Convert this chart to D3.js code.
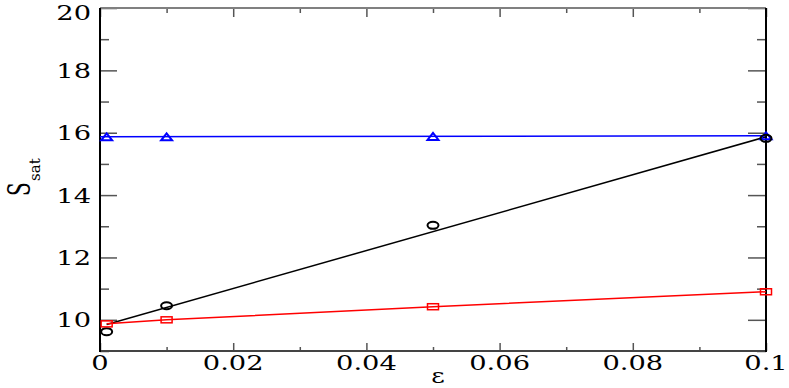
<!DOCTYPE html>
<html>
<head>
<meta charset="utf-8">
<script src="https://cdn.jsdelivr.net/npm/d3@7"></script>
<style>
  html, body { margin: 0; padding: 0; background: #fff; }
  .domain { display: none; }
  svg text { font-family: "DejaVu Serif"; fill: #000; }
</style>
</head>
<body>
<div id="chart"></div>
<script>
// data
const epsVals = [0.001, 0.01, 0.05, 0.1];
const blueVals = [15.87, 15.87, 15.88, 15.9];
const blackVals = [9.62, 10.45, 13.03, 15.82];
const redVals = [9.87, 10.0, 10.42, 10.9];
const blueFitX = [0, 0.1];
const blueFitY = [15.87, 15.9];
const blackFitX = [0.001, 0.1];
const blackFitY = [9.85, 15.87];
const xMajor = [0, 0.02, 0.04, 0.06, 0.08, 0.1];
const xMinor = [0.01, 0.03, 0.05, 0.07, 0.09];
const xLabels = ["0", "0.02", "0.04", "0.06", "0.08", "0.1"];
const yMajor = [10, 12, 14, 16, 18, 20];
const yMinor = [9, 11, 13, 15, 17, 19];

const W = 789, H = 388;
const plot = { left: 100, right: 766, top: 8, bottom: 351 };
const stretch = 1.3;

const svg = d3.select("#chart").append("svg")
    .attr("width", W)
    .attr("height", H);

const x = d3.scaleLinear().domain([0, 0.1]).range([plot.left, plot.right]);
const y = d3.scaleLinear().domain([9, 20]).range([plot.bottom, plot.top]);

// ticks, mirrored on all four sides
function tickAxis(axis, vals, size, tx, ty) {
    const g = svg.append("g")
        .attr("transform", `translate(${tx},${ty})`)
        .call(axis.tickValues(vals).tickSize(size).tickFormat(""));
    g.selectAll(".tick line").attr("stroke", "#555").attr("stroke-width", 1.5);
}
tickAxis(d3.axisLeft(y), yMajor, -17, plot.left, 0);
tickAxis(d3.axisLeft(y), yMinor, -9, plot.left, 0);
tickAxis(d3.axisRight(y), yMajor, -18, plot.right, 0);
tickAxis(d3.axisRight(y), yMinor, -9, plot.right, 0);
tickAxis(d3.axisBottom(x), xMajor, -8, 0, plot.bottom);
tickAxis(d3.axisBottom(x), xMinor, -4, 0, plot.bottom);
tickAxis(d3.axisTop(x), xMajor, -9, 0, plot.top);
tickAxis(d3.axisTop(x), xMinor, -5, 0, plot.top);

// frame
svg.append("line").attr("x1", plot.left).attr("x2", plot.right)
    .attr("y1", plot.top).attr("y2", plot.top)
    .attr("stroke", "#808080").attr("stroke-width", 2);
svg.append("line").attr("x1", plot.left).attr("x2", plot.right)
    .attr("y1", plot.bottom).attr("y2", plot.bottom)
    .attr("stroke", "#444").attr("stroke-width", 2);
svg.append("line").attr("x1", plot.left).attr("x2", plot.left)
    .attr("y1", plot.top).attr("y2", plot.bottom + 1)
    .attr("stroke", "#000").attr("stroke-width", 2);
svg.append("line").attr("x1", plot.right).attr("x2", plot.right)
    .attr("y1", plot.top).attr("y2", plot.bottom + 1)
    .attr("stroke", "#000").attr("stroke-width", 2);

// tick labels (the original is stretched sideways)
svg.append("g").selectAll("text")
    .data(yMajor)
    .join("text")
    .attr("transform", d => `translate(91,${Math.max(y(d) + 7.5, 20)}) scale(${stretch},1)`)
    .attr("text-anchor", "end")
    .attr("font-size", 21)
    .text(d => d);

svg.append("g").selectAll("text")
    .data(xMajor)
    .join("text")
    .attr("transform", d => `translate(${x(d)},370) scale(${stretch},1)`)
    .attr("text-anchor", "middle")
    .attr("font-size", 21)
    .text((d, i) => xLabels[i]);

// axis titles
svg.append("text")
    .attr("transform", `translate(438,383) scale(${stretch},1)`)
    .attr("text-anchor", "middle")
    .attr("font-size", 20)
    .text("ε");

svg.append("text")
    .attr("transform", "translate(30,196) rotate(-90) scale(1,1.6)")
    .attr("font-size", 20)
    .text("S");
svg.append("text")
    .attr("transform", "translate(40,181) rotate(-90)")
    .attr("font-size", 15)
    .text("sat");

// lines
const line = d3.line().x(d => x(d[0])).y(d => y(d[1]));

svg.append("path")
    .datum(blueFitX.map((v, i) => [v, blueFitY[i]]))
    .attr("d", line)
    .attr("fill", "none").attr("stroke", "#0000ff").attr("stroke-width", 1.5);

svg.append("path")
    .datum(blackFitX.map((v, i) => [v, blackFitY[i]]))
    .attr("d", line)
    .attr("fill", "none").attr("stroke", "#000").attr("stroke-width", 1.5);

svg.append("path")
    .datum(epsVals.map((v, i) => [v, redVals[i]]))
    .attr("d", line)
    .attr("fill", "none").attr("stroke", "#ff0000").attr("stroke-width", 1.5);

// markers
svg.append("g").selectAll("path")
    .data(epsVals.map((v, i) => [v, blueVals[i]]))
    .join("path")
    .attr("transform", d => `translate(${x(d[0])},${y(d[1])})`)
    .attr("d", "M-5.5,3.5L5.5,3.5L0,-3.5Z")
    .attr("fill", "none").attr("stroke", "#0000ff").attr("stroke-width", 2);

svg.append("g").selectAll("ellipse")
    .data(epsVals.map((v, i) => [v, blackVals[i]]))
    .join("ellipse")
    .attr("cx", d => x(d[0]))
    .attr("cy", d => y(d[1]))
    .attr("rx", 5.5).attr("ry", 3.5)
    .attr("fill", "none").attr("stroke", "#000").attr("stroke-width", 2);

svg.append("g").selectAll("rect")
    .data(epsVals.map((v, i) => [v, redVals[i]]))
    .join("rect")
    .attr("x", d => x(d[0]) - 5.5)
    .attr("y", d => y(d[1]) - 3)
    .attr("width", 11).attr("height", 6)
    .attr("fill", "none").attr("stroke", "#ff0000").attr("stroke-width", 1.5);
</script>
</body>
</html>
